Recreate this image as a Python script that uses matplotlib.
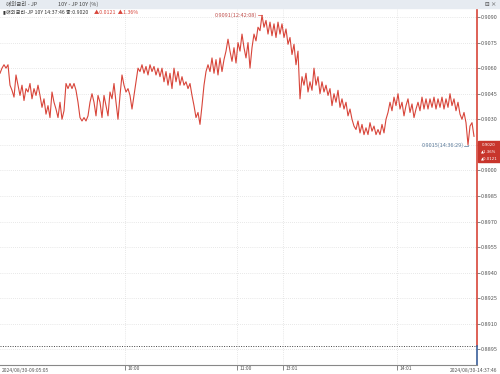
import numpy as np
import matplotlib
matplotlib.use("Agg")
import matplotlib.transforms as mtransforms
from matplotlib import pyplot as plt

plt.rcParams["font.family"] = ["Noto Sans CJK KR", "DejaVu Sans"]

# intraday yield (one point every ~2 px)
yields = [
    0.9057, 0.9060, 0.9062, 0.9060, 0.9062, 0.9050, 0.9047, 0.9043, 0.9056, 0.9050,
    0.9044, 0.9050, 0.9041, 0.9048, 0.9046, 0.9051, 0.9042, 0.9048, 0.9044, 0.9050,
    0.9044, 0.9037, 0.9042, 0.9033, 0.9038, 0.9031, 0.9046, 0.9040, 0.9036, 0.9031,
    0.9040, 0.9030, 0.9035, 0.9051, 0.9048, 0.9051, 0.9048, 0.9051, 0.9047, 0.9040,
    0.9031, 0.9029, 0.9031, 0.9029, 0.9032, 0.9040, 0.9045, 0.9040, 0.9032, 0.9044,
    0.9040, 0.9031, 0.9044, 0.9038, 0.9032, 0.9046, 0.9042, 0.9051, 0.9040, 0.9030,
    0.9044, 0.9056, 0.9050, 0.9046, 0.9048, 0.9044, 0.9036, 0.9044, 0.9052, 0.9060,
    0.9058, 0.9062, 0.9057, 0.9061, 0.9056, 0.9062, 0.9058, 0.9061, 0.9056, 0.9060,
    0.9055, 0.9060, 0.9052, 0.9058, 0.9050, 0.9057, 0.9048, 0.9060, 0.9052, 0.9058,
    0.9050, 0.9055, 0.9050, 0.9052, 0.9048,
    0.9051, 0.9044, 0.9038, 0.9031, 0.9034, 0.9027, 0.9038, 0.9050, 0.9058, 0.9062,
    0.9058, 0.9066, 0.9057, 0.9065, 0.9056, 0.9066, 0.9058, 0.9065, 0.9070, 0.9077,
    0.9070, 0.9064, 0.9072, 0.9063, 0.9075, 0.9070, 0.9080, 0.9072, 0.9066, 0.9075,
    0.9060, 0.9072, 0.9080, 0.9076, 0.9084, 0.9082, 0.9091,
    0.9084, 0.9088, 0.9080, 0.9087, 0.9079, 0.9086, 0.9078, 0.9087, 0.9080, 0.9086,
    0.9078, 0.9083,
    0.9074, 0.9078, 0.9068, 0.9074, 0.9062, 0.9070, 0.9042,
    0.9055, 0.9050, 0.9057, 0.9046, 0.9052, 0.9047, 0.9060, 0.9050, 0.9055, 0.9045,
    0.9052, 0.9046, 0.9050,
    0.9044, 0.9048, 0.9038, 0.9045, 0.9040, 0.9047, 0.9037, 0.9042, 0.9036, 0.9040,
    0.9032, 0.9036, 0.9030,
    0.9026, 0.9024, 0.9029, 0.9022, 0.9027, 0.9021, 0.9025, 0.9021, 0.9028, 0.9023,
    0.9026, 0.9021, 0.9024, 0.9021, 0.9027, 0.9022,
    0.9030, 0.9034, 0.9040, 0.9035, 0.9043, 0.9038, 0.9045,
    0.9036, 0.9040, 0.9032, 0.9038, 0.9042, 0.9034, 0.9039, 0.9031, 0.9036, 0.9040,
    0.9035,
    0.9043, 0.9036, 0.9042, 0.9036, 0.9042, 0.9037, 0.9043, 0.9036, 0.9042, 0.9037,
    0.9043, 0.9036, 0.9042, 0.9037, 0.9045, 0.9038, 0.9042, 0.9035, 0.9040, 0.9033,
    0.9030, 0.9034, 0.9028, 0.9015, 0.9026, 0.9028, 0.9020,
]
max_label = "0.9091(12:42:08)"
min_label = "0.9015(14:36:29)"
prev_close = 0.8897

time_ticks = [62.5, 118.5, 141.5, 198.5]
time_labels = ["10:00", "11:00", "13:01", "14:01"]
start_label = "2024/08/30-09:05:05"
end_label = "2024/08/30-14:37:46"
y_ticks = np.round(np.arange(0.8895, 0.90901, 0.0015), 4)

title_left = "해외금리 - JP"
title_mid = "10Y - JP 10Y (%)"
info_black = "해외금리-JP 10Y 14:37:46 종:0.9020"
info_red = "▲0.0121  ▲1.36%"
last_box = ["0.9020", "▲1.36%", "▲0.0121"]

red = "#d8453a"
grey = "#555555"
fs = 4.0

ymin, ymax = 0.88858, 0.90953
fig = plt.figure(figsize=(5, 3.74), dpi=100)
ax = fig.add_axes([0.0, 9 / 374, 477 / 500, 357 / 374])

x = np.arange(len(yields))
ax.plot(x, yields, color=red, lw=0.8)
ax.set_xlim(0, 238.5)
ax.set_ylim(ymin, ymax)

ax.grid(True, color="#d2d2d2", ls=(0, (1, 2)), lw=0.5)
ax.set_xticks(time_ticks)
ax.set_xticklabels(time_labels, fontsize=3.6, color=grey, ha="left")
ax.tick_params(axis="x", direction="out", length=3.5, width=0.5, pad=-2.5, color=grey)
shift = mtransforms.ScaledTranslation(1.5 / 72, 0, fig.dpi_scale_trans)
for lab in ax.get_xticklabels():
    lab.set_transform(lab.get_transform() + shift)
ax.yaxis.tick_right()
ax.set_yticks(y_ticks)
ax.set_yticklabels([f"{v:.4f}" for v in y_ticks], fontsize=fs, color=grey)
ax.tick_params(axis="y", direction="out", length=2, width=0.5, pad=0.5, color=grey)

for s in ["top", "left", "right"]:
    ax.spines[s].set_visible(False)
ax.spines["bottom"].set_color("#888888")
ax.spines["bottom"].set_linewidth(0.8)

# right axis: red above prev close, blue below
cut = (prev_close - ymin) / (ymax - ymin)
ax.axvline(238.5, ymin=cut, ymax=1, color=red, lw=1.2, clip_on=False)
ax.axvline(238.5, ymin=0, ymax=cut, color="#3a5f9a", lw=1.2, clip_on=False)
ax.axhline(prev_close, color="#444444", ls=(0, (1, 1.5)), lw=0.7)

# max / min annotations
imax = int(np.argmax(yields))
imin = int(np.argmin(yields))
ax.plot([imax - 2, imax], [yields[imax], yields[imax]], color=red, lw=0.5)
ax.text(imax - 2.3, yields[imax], max_label, fontsize=fs, color="#c0504d",
        ha="right", va="center")
ax.plot([imin - 2, imin, imin], [yields[imin] - 0.00004, yields[imin] - 0.00004,
        yields[imin]], color="#5a7a9a", lw=0.5)
ax.text(imin - 2.3, yields[imin] - 0.00004, min_label, fontsize=fs,
        color="#5a7a9a", ha="right", va="center")

# last value box
fig.patches.append(plt.Rectangle((478 / 500, (374 - 162) / 374), 22 / 500, 21 / 374,
                                 transform=fig.transFigure, color="#c8352c"))
for k, t in enumerate(last_box):
    fig.text(489 / 500, (374 - 145 - k * 6.5) / 374, t, fontsize=2.8, color="white",
             ha="center", va="center", family="DejaVu Sans")

# bottom end labels
fig.text(0.004, 1.0 / 374, start_label, fontsize=3.6, color=grey, ha="left", va="bottom")
fig.text(0.994, 1.0 / 374, end_label, fontsize=3.6, color=grey, ha="right", va="bottom")

# header strip
fig.patches.append(plt.Rectangle((0, 366 / 374), 1, 8 / 374,
                                 transform=fig.transFigure, color="#e6ebf1"))
fig.text(6 / 500, 370 / 374, title_left, fontsize=fs, color="#444444", va="center")
fig.text(58 / 500, 370 / 374, title_mid, fontsize=fs, color="#444444", va="center")
fig.text(485 / 500, 370 / 374, "⊟ ×", fontsize=fs, color="#444444", va="center")
fig.text(3 / 500, 362 / 374, "▮" + info_black, fontsize=3.8, color="#333333",
         va="center")
fig.text(94 / 500, 362 / 374, info_red, fontsize=3.8, color=red, va="center")

fig.savefig("out.png", dpi=100)
